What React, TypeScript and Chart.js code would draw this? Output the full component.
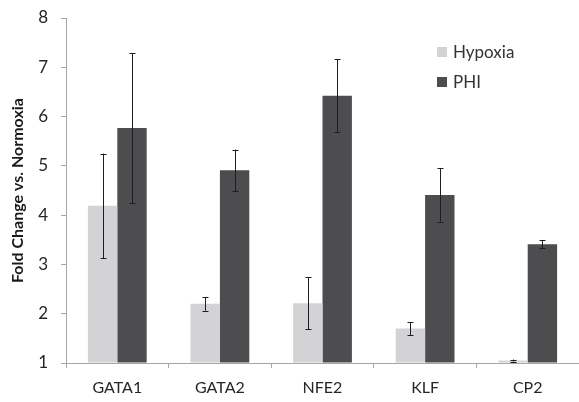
import React, { useEffect, useRef } from "react";
import { Chart, registerables } from "chart.js";

Chart.register(...registerables);

const categories = ["GATA1", "GATA2", "NFE2", "KLF", "CP2"];
const hypoxiaValues = [4.19, 2.2, 2.21, 1.7, 1.05];
const hypoxiaErrors = [1.06, 0.14, 0.53, 0.13, 0.02];
const phiValues = [5.77, 4.91, 6.42, 4.41, 3.41];
const phiErrors = [1.52, 0.42, 0.74, 0.54, 0.08];
const seriesNames = ["Hypoxia", "PHI"];
const seriesColors = ["#d3d3d5", "#4d4d4f"];
const yTitle = "Fold Change vs. Normoxia";

const FONT = "Lato, 'Open Sans', sans-serif";

const errorBarPlugin = {
  id: "errorBars",
  afterDatasetsDraw(chart: any) {
    const ctx = chart.ctx;
    const yScale = chart.scales.y;
    ctx.save();
    ctx.strokeStyle = "#1e1e1e";
    ctx.lineWidth = 1;
    chart.data.datasets.forEach((ds: any, di: number) => {
      const meta = chart.getDatasetMeta(di);
      meta.data.forEach((bar: any, i: number) => {
        const v = ds.data[i];
        const e = ds.errors[i];
        const x = Math.round(bar.x) + 0.5;
        const yTop = yScale.getPixelForValue(v + e);
        const yBot = yScale.getPixelForValue(v - e);
        ctx.beginPath();
        ctx.moveTo(x, yTop);
        ctx.lineTo(x, yBot);
        ctx.moveTo(x - 3, Math.round(yTop) + 0.5);
        ctx.lineTo(x + 3, Math.round(yTop) + 0.5);
        ctx.moveTo(x - 3, Math.round(yBot) + 0.5);
        ctx.lineTo(x + 3, Math.round(yBot) + 0.5);
        ctx.stroke();
      });
    });
    ctx.restore();
  },
};

const legendPlugin = {
  id: "customLegend",
  afterDraw(chart: any) {
    const ctx = chart.ctx;
    const area = chart.chartArea;
    const x0 = area.right - 142;
    const y0 = area.top + 34;
    ctx.save();
    ctx.font = `17px ${FONT}`;
    ctx.textBaseline = "middle";
    chart.data.datasets.forEach((ds: any, i: number) => {
      const cy = y0 + i * 30;
      ctx.fillStyle = ds.backgroundColor;
      ctx.fillRect(x0, cy - 5, 10, 10);
      ctx.fillStyle = "#333333";
      ctx.fillText(ds.label, x0 + 16, cy + 1);
    });
    ctx.restore();
  },
};

export default function App() {
  const ref = useRef<HTMLCanvasElement>(null);

  useEffect(() => {
    if (!ref.current) return;
    const chart = new Chart(ref.current, {
      type: "bar",
      data: {
        labels: categories,
        datasets: [
          {
            label: seriesNames[0],
            data: hypoxiaValues,
            errors: hypoxiaErrors,
            backgroundColor: seriesColors[0],
            base: 1,
          } as any,
          {
            label: seriesNames[1],
            data: phiValues,
            errors: phiErrors,
            backgroundColor: seriesColors[1],
            base: 1,
          } as any,
        ],
      },
      options: {
        animation: false,
        responsive: false,
        maintainAspectRatio: false,
        layout: { padding: { top: 18, right: 0, left: 0, bottom: 0 } },
        datasets: {
          bar: { categoryPercentage: 0.573, barPercentage: 1 },
        },
        plugins: {
          legend: { display: false },
          tooltip: { enabled: false },
        },
        scales: {
          x: {
            offset: true,
            grid: {
              offset: true,
              drawOnChartArea: false,
              drawTicks: true,
              tickLength: 5,
              color: "#a6a6a6",
            },
            border: { color: "#a6a6a6", width: 1 },
            ticks: {
              color: "#262626",
              font: { family: FONT, size: 16 },
              padding: 10,
              maxRotation: 0,
            },
            afterFit(scale: any) {
              scale.height = 39;
              scale.paddingLeft = 0;
              scale.paddingRight = 0;
            },
          },
          y: {
            min: 1,
            max: 8,
            ticks: {
              stepSize: 1,
              color: "#262626",
              font: { family: FONT, size: 17 },
              padding: 13,
            },
            grid: {
              drawOnChartArea: false,
              drawTicks: true,
              tickLength: 5,
              color: "#a6a6a6",
            },
            border: { color: "#a6a6a6", width: 1 },
            title: {
              display: true,
              text: yTitle,
              color: "#1a1a1a",
              font: { family: FONT, size: 16, weight: "bold" },
              padding: { top: 8, bottom: 0 },
            },
            afterFit(scale: any) {
              scale.width = 66;
              scale.paddingTop = 0;
              scale.paddingBottom = 0;
            },
          },
        },
      } as any,
      plugins: [errorBarPlugin, legendPlugin],
    });
    return () => chart.destroy();
  }, []);

  return (
    <div style={{ position: "fixed", left: 0, top: 0, width: 579, height: 402, background: "#fff" }}>
      <canvas ref={ref} width={579} height={402} style={{ width: 579, height: 402 }} />
    </div>
  );
}
